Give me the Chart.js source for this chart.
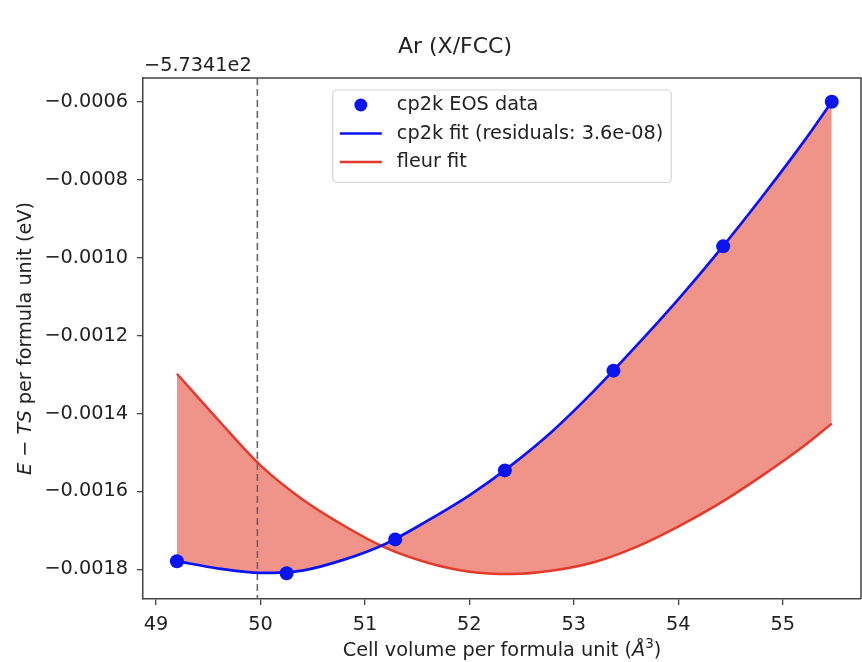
<!DOCTYPE html>
<html lang="en">
<head>
<meta charset="UTF-8">
<title>Ar (X/FCC)</title>
<script src="https://cdn.jsdelivr.net/npm/chart.js"></script>
<style>
    body { margin: 0; background: #fff; }
    canvas { display: block; }
</style>
</head>
<body>
<canvas id="eosChart" width="862" height="662"></canvas>
<script>
// cp2k EOS points: volume (Å^3) and energy relative to -573.41 eV
const eosVolumes  = [49.2, 50.25, 51.29, 52.34, 53.38, 54.43, 55.47];
const eosEnergies = [-0.001779, -0.00181, -0.001723, -0.001546, -0.00129, -0.000971, -0.0006];

// both fitted curves on the same volume grid
const fitVolumes = [49.2, 49.6, 50.0, 50.4, 50.8, 51.2, 51.6, 52.0, 52.4, 52.8, 53.2, 53.6, 54.0, 54.4, 54.8, 55.2, 55.47];
const cp2kFit  = [-0.001779, -0.001798, -0.001809, -0.001803, -0.001775, -0.001734, -0.001675, -0.00161, -0.001533,
                  -0.001444, -0.00134, -0.001226, -0.001107, -0.00098, -0.000845, -0.000703, -0.0006];
const fleurFit = [-0.001298, -0.001418, -0.001533, -0.00162, -0.001688, -0.001745, -0.001783, -0.001806, -0.001812,
                  -0.001803, -0.001781, -0.001742, -0.00169, -0.00163, -0.00156, -0.001484, -0.001426];

const seriesLabels = ['cp2k EOS data', 'cp2k fit (residuals: 3.6e-08)', 'fleur fit'];
const minVolume = 49.97;           // dashed marker
const offsetText = '\u22125.7341e2';
const xTicks = [49, 50, 51, 52, 53, 54, 55];
const yTicks = [-0.0018, -0.0016, -0.0014, -0.0012, -0.0010, -0.0008, -0.0006];

const FONT = '"DejaVu Sans", Verdana, sans-serif';
const FS = 19.3;
const TXT = '#222';
const AXIS = '#444';
const BLUE = '#0a14f0';
const RED = '#e43a2b';
const FILL = 'rgb(240, 148, 138)';

const toPts = (xs, ys) => xs.map((x, i) => ({ x: x, y: ys[i] }));

// draw a run of [text, italic, superscript] pieces starting at x (baseline-middle)
function drawRich(ctx, parts, x, y, size) {
    parts.forEach(p => {
        const s = p[2] ? size * 0.7 : size;
        ctx.font = (p[1] ? 'italic ' : '') + s + 'px ' + FONT;
        ctx.fillText(p[0], x, p[2] ? y - size * 0.35 : y);
        x += ctx.measureText(p[0]).width;
    });
}
function richWidth(ctx, parts, size) {
    let w = 0;
    parts.forEach(p => {
        const s = p[2] ? size * 0.7 : size;
        ctx.font = (p[1] ? 'italic ' : '') + s + 'px ' + FONT;
        w += ctx.measureText(p[0]).width;
    });
    return w;
}

const decorPlugin = {
    id: 'decor',
    afterDatasetDraw(chart, args) {
        // vertical dashed line sits above the shaded area but under the curves
        if (args.index !== 2) return;
        const ctx = chart.ctx, a = chart.chartArea;
        const px = chart.scales.x.getPixelForValue(minVolume);
        ctx.save();
        ctx.strokeStyle = '#666';
        ctx.lineWidth = 1.6;
        ctx.setLineDash([7, 4]);
        ctx.beginPath();
        ctx.moveTo(px, a.top);
        ctx.lineTo(px, a.bottom);
        ctx.stroke();
        ctx.restore();
    },
    afterDraw(chart) {
        const ctx = chart.ctx, a = chart.chartArea;
        ctx.save();

        // top and right spines
        ctx.strokeStyle = AXIS;
        ctx.lineWidth = 1.5;
        ctx.beginPath();
        ctx.moveTo(a.left, a.top);
        ctx.lineTo(a.right, a.top);
        ctx.lineTo(a.right, a.bottom);
        ctx.stroke();

        ctx.fillStyle = TXT;
        ctx.textBaseline = 'middle';

        // title
        ctx.font = '22px ' + FONT;
        ctx.textAlign = 'center';
        ctx.fillText('Ar (X/FCC)', 455, 47);

        // offset above the y axis
        ctx.font = FS + 'px ' + FONT;
        ctx.textAlign = 'left';
        ctx.textBaseline = 'bottom';
        ctx.fillText(offsetText, a.left + 1, a.top - 2);
        ctx.textBaseline = 'middle';

        // x axis title
        const xParts = [['Cell volume per formula unit (', false], ['\u00c5', true], ['3', false, true], [')', false]];
        const xw = richWidth(ctx, xParts, FS);
        drawRich(ctx, xParts, 502 - xw / 2, 651, FS);

        // y axis title, rotated
        const yParts = [['E', true], [' \u2212 ', false], ['TS', true], [' per formula unit (eV)', false]];
        const yw = richWidth(ctx, yParts, FS);
        ctx.save();
        ctx.translate(26, (a.top + a.bottom) / 2);
        ctx.rotate(-Math.PI / 2);
        drawRich(ctx, yParts, -yw / 2, 0, FS);
        ctx.restore();

        // legend box, upper centre
        ctx.font = FS + 'px ' + FONT;
        const textW = Math.max(...seriesLabels.map(l => ctx.measureText(l).width));
        const boxW = 64 + textW + 8;
        const boxL = 502 - boxW / 2;
        const boxT = a.top + 12;
        const rowH = 28.5;
        const boxH = rowH * 3 + 7;
        ctx.fillStyle = 'rgba(255,255,255,0.85)';
        ctx.strokeStyle = '#d4d4d4';
        ctx.lineWidth = 1.2;
        ctx.beginPath();
        ctx.roundRect(boxL, boxT, boxW, boxH, 4);
        ctx.fill();
        ctx.stroke();

        seriesLabels.forEach((label, i) => {
            const cy = boxT + 15 + i * rowH;
            if (i === 0) {
                ctx.fillStyle = BLUE;
                ctx.beginPath();
                ctx.arc(boxL + 28, cy, 6.5, 0, Math.PI * 2);
                ctx.fill();
            } else {
                ctx.strokeStyle = i === 1 ? BLUE : RED;
                ctx.lineWidth = 2.6;
                ctx.beginPath();
                ctx.moveTo(boxL + 7, cy);
                ctx.lineTo(boxL + 49, cy);
                ctx.stroke();
            }
            ctx.fillStyle = TXT;
            ctx.textAlign = 'left';
            ctx.textBaseline = 'middle';
            ctx.fillText(label, boxL + 64, cy);
        });

        ctx.restore();
    }
};

new Chart(document.getElementById('eosChart'), {
    type: 'line',
    data: {
        datasets: [
            {
                label: seriesLabels[0],
                data: toPts(eosVolumes, eosEnergies),
                showLine: false,
                pointRadius: 7,
                pointBackgroundColor: BLUE,
                pointBorderColor: BLUE,
                pointBorderWidth: 0
            },
            {
                label: seriesLabels[1],
                data: toPts(fitVolumes, cp2kFit),
                borderColor: BLUE,
                borderWidth: 2.7,
                pointRadius: 0,
                cubicInterpolationMode: 'monotone',
                fill: false
            },
            {
                label: seriesLabels[2],
                data: toPts(fitVolumes, fleurFit),
                borderColor: RED,
                borderWidth: 2.5,
                backgroundColor: FILL,
                pointRadius: 0,
                cubicInterpolationMode: 'monotone',
                fill: '-1'
            }
        ]
    },
    options: {
        responsive: false,
        animation: false,
        devicePixelRatio: 1,
        layout: { autoPadding: false, padding: { top: 78, right: 1, left: 0, bottom: 0 } },
        plugins: {
            legend: { display: false },
            title: { display: false },
            tooltip: { enabled: false }
        },
        scales: {
            x: {
                type: 'linear',
                min: 48.875,
                max: 55.75,
                afterBuildTicks: axis => { axis.ticks = xTicks.map(v => ({ value: v })); },
                afterFit: scale => {
                    scale.height = 63;
                    scale.paddingLeft = 0;
                    scale.paddingRight = 0;
                },
                border: { display: true, color: AXIS, width: 1.5 },
                grid: { display: true, drawOnChartArea: false, drawTicks: true, tickLength: 6, color: AXIS, lineWidth: 1.3 },
                ticks: {
                    padding: 8,
                    color: TXT,
                    font: { family: FONT, size: FS },
                    maxRotation: 0,
                    callback: v => String(v)
                }
            },
            y: {
                min: -0.001876,
                max: -0.000539,
                afterBuildTicks: axis => { axis.ticks = yTicks.map(v => ({ value: v })); },
                afterFit: scale => {
                    scale.width = 143;
                    scale.paddingTop = 0;
                    scale.paddingBottom = 0;
                },
                border: { display: true, color: AXIS, width: 1.5 },
                grid: { display: true, drawOnChartArea: false, drawTicks: true, tickLength: 6, color: AXIS, lineWidth: 1.3 },
                ticks: {
                    padding: 9,
                    color: TXT,
                    font: { family: FONT, size: FS },
                    callback: v => '\u2212' + Math.abs(v).toFixed(4)
                }
            }
        }
    },
    plugins: [decorPlugin]
});
</script>
</body>
</html>
